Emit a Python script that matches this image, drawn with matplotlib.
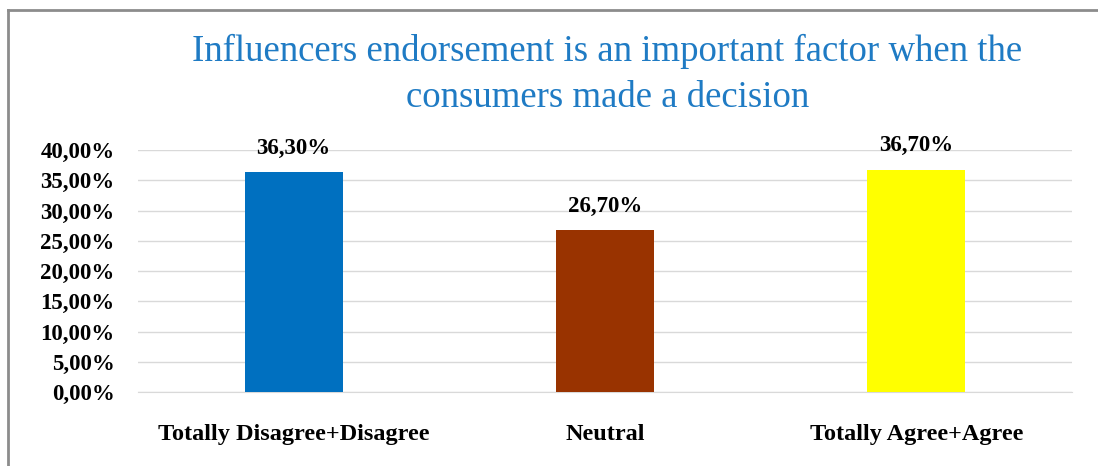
import matplotlib
matplotlib.use("Agg")
import matplotlib.pyplot as plt
from matplotlib.lines import Line2D
from matplotlib.ticker import FuncFormatter

# Donnees du graphique
categories = ["Totally Disagree+Disagree", "Neutral", "Totally Agree+Agree"]
values = [36.30, 26.70, 36.70]
colors = ["#0070C0", "#993300", "#FFFF00"]
title = "Influencers endorsement is an important factor when the\nconsumers made a decision"


def pct(v, pos=None):
    return f"{v:.2f}%".replace(".", ",")


def main():
    plt.rcParams["font.family"] = ["Liberation Serif", "DejaVu Serif"]
    fig = plt.figure(figsize=(10.98, 4.66), dpi=100)

    # Cadre gris (bords gauche et haut)
    x0 = 8 / 1098
    y0 = (466 - 10) / 466
    fig.add_artist(Line2D([x0, x0], [0, y0], transform=fig.transFigure,
                          color="#8c8c8c", linewidth=2))
    fig.add_artist(Line2D([x0, 1], [y0, y0], transform=fig.transFigure,
                          color="#8c8c8c", linewidth=2))

    ax = fig.add_axes([0.1257, 0.1588, 0.8506, 0.5193])
    x = range(len(categories))
    bars = ax.bar(x, values, width=0.315, color=colors, zorder=3)

    ax.set_xlim(-0.5, len(categories) - 0.5)
    ax.set_ylim(0, 40)
    ax.set_yticks(range(0, 41, 5))
    ax.yaxis.set_major_formatter(FuncFormatter(pct))
    ax.set_xticks(list(x))
    ax.set_xticklabels(categories)

    for lab in ax.get_yticklabels():
        lab.set_fontweight("bold")
        lab.set_fontsize(16.5)
    for lab in ax.get_xticklabels():
        lab.set_fontweight("bold")
        lab.set_fontsize(17.5)
    ax.tick_params(axis="y", length=0, pad=17)
    ax.tick_params(axis="x", length=0, pad=23)

    ax.grid(axis="y", color="#d9d9d9", linewidth=1, zorder=0)
    for s in ["top", "right", "left"]:
        ax.spines[s].set_visible(False)
    ax.spines["bottom"].set_color("#d9d9d9")

    # Etiquettes de valeur au-dessus des barres
    for b, v in zip(bars, values):
        ax.annotate(pct(v), (b.get_x() + b.get_width() / 2, v),
                    xytext=(0, 10), textcoords="offset points",
                    ha="center", va="bottom", fontsize=16.5, fontweight="bold")

    fig.text(0.553, 0.84, title, ha="center", va="center", fontsize=26.5,
             color="#1f7bc4", linespacing=1.42)

    fig.savefig("out.png", dpi=100)


if __name__ == "__main__":
    main()
